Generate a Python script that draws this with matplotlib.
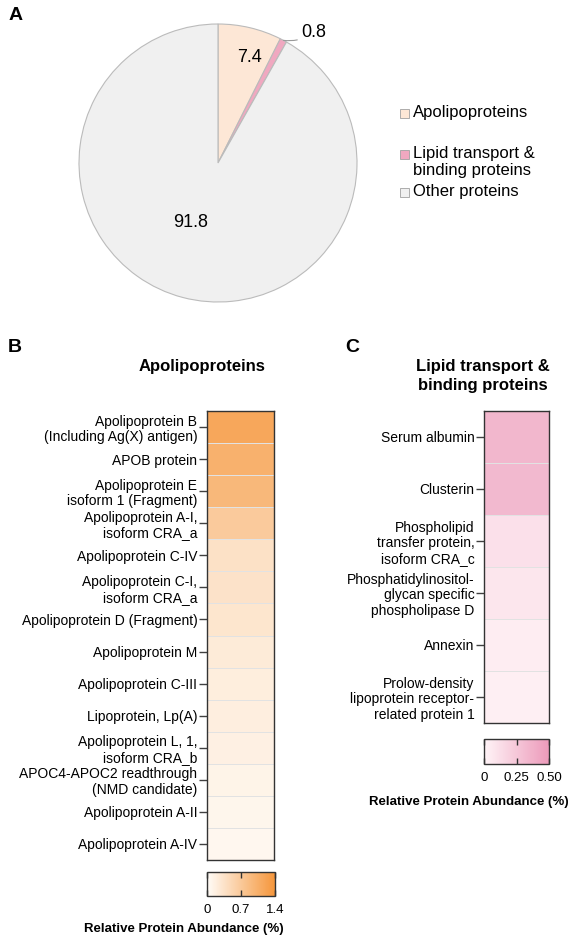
"""Protein composition figure: pie of protein classes plus two abundance heatmaps."""

import matplotlib

matplotlib.use("Agg")
import matplotlib.pyplot as plt
import numpy as np
from matplotlib.colors import LinearSegmentedColormap
from matplotlib.patches import Rectangle

plt.rcParams["font.family"] = ["Liberation Sans", "DejaVu Sans"]

# Panel A: share of total protein abundance (%)
pie_labels = ["Apolipoproteins", "Lipid transport &\nbinding proteins", "Other proteins"]
pie_values = [7.4, 0.8, 91.8]
pie_colors = ["#FDE7D6", "#F0A8C0", "#F0F0F0"]

# Panel B: apolipoproteins, relative abundance (%)
apo_names = [
    "Apolipoprotein B\n(Including Ag(X) antigen)",
    "APOB protein",
    "Apolipoprotein E\nisoform 1 (Fragment)",
    "Apolipoprotein A-I,\nisoform CRA_a",
    "Apolipoprotein C-IV",
    "Apolipoprotein C-I,\nisoform CRA_a",
    "Apolipoprotein D (Fragment)",
    "Apolipoprotein M",
    "Apolipoprotein C-III",
    "Lipoprotein, Lp(A)",
    "Apolipoprotein L, 1,\nisoform CRA_b",
    "APOC4-APOC2 readthrough\n(NMD candidate)",
    "Apolipoprotein A-II",
    "Apolipoprotein A-IV",
]
apo_values = [1.16, 1.03, 0.93, 0.68, 0.37, 0.35, 0.31, 0.24, 0.20, 0.19, 0.16, 0.12, 0.09, 0.07]
apo_ticks = [0, 0.7, 1.4]
apo_ticklabels = ["0", "0.7", "1.4"]

# Panel C: lipid transport & binding proteins, relative abundance (%)
lipid_names = [
    "Serum albumin",
    "Clusterin",
    "Phospholipid\ntransfer protein,\nisoform CRA_c",
    "Phosphatidylinositol-\nglycan specific\nphospholipase D",
    "Annexin",
    "Prolow-density\nlipoprotein receptor-\nrelated protein 1",
]
lipid_values = [0.34, 0.33, 0.11, 0.08, 0.04, 0.03]
lipid_ticks = [0, 0.25, 0.50]
lipid_ticklabels = ["0", "0.25", "0.50"]

W, H = 574, 943
fig = plt.figure(figsize=(W / 100, H / 100), dpi=100)


def px_axes(x0, y0, x1, y1):
    """Axes from pixel box (top-left origin)."""
    return fig.add_axes([x0 / W, 1 - y1 / H, (x1 - x0) / W, (y1 - y0) / H])


def ftext(x, y, s, **kw):
    fig.text(x / W, 1 - y / H, s, **kw)


# ---- Panel A: pie ----
r = 139
cx, cy = 218, 163
ax_pie = px_axes(cx - r, cy - r, cx + r, cy + r)
ax_pie.pie(
    pie_values,
    colors=pie_colors,
    startangle=90,
    counterclock=False,
    radius=1,
    wedgeprops=dict(edgecolor="#BBBBBB", linewidth=0.8),
)
ax_pie.set_xlim(-1, 1)
ax_pie.set_ylim(-1, 1)
ax_pie.set_aspect("auto")
ax_pie.text(0.23, 0.76, f"{pie_values[0]}", fontsize=13, ha="center", va="center")
ax_pie.text(-0.2, -0.43, f"{pie_values[2]}", fontsize=13, ha="center", va="center")
mid = np.deg2rad(90 - 360 * (pie_values[0] + pie_values[1] / 2) / 100)
ax_pie.annotate(
    f"{pie_values[1]}",
    xy=(np.cos(mid), np.sin(mid)),
    xytext=(0.6, 0.94),
    fontsize=13,
    ha="left",
    va="center",
    arrowprops=dict(arrowstyle="-", color="#999999", lw=0.8, shrinkA=1, shrinkB=0,
                    connectionstyle="arc3,rad=-0.2"),
    annotation_clip=False,
)

# legend drawn by hand to keep the uneven row spacing
legend_rows = [113, 154, 192]
for label, color, ly in zip(pie_labels, pie_colors, legend_rows):
    fig.add_artist(Rectangle((400 / W, 1 - (ly + 4.5) / H), 9 / W, 9 / H,
                             transform=fig.transFigure, facecolor=color,
                             edgecolor="#A0A0A0", linewidth=0.6))
    ftext(413, ly - 8, label, fontsize=12, ha="left", va="top", linespacing=1.15)


# ---- heatmaps ----
def heatmap(box, cbox, names, values, cmap, vmax, ticks, ticklabels):
    ax = px_axes(*box)
    data = np.array(values)[:, None]
    mesh = ax.pcolormesh(data, cmap=cmap, vmin=0, vmax=vmax,
                         edgecolors="#E2E2E2", linewidth=0.4)
    ax.set_ylim(len(values), 0)
    ax.set_xticks([])
    ax.set_yticks(np.arange(len(values)) + 0.5)
    ax.set_yticklabels(names, fontsize=10, linespacing=1.15)
    ax.tick_params(axis="y", length=6, width=1, color="#404040", pad=1)
    for sp in ax.spines.values():
        sp.set_color("#333333")
        sp.set_linewidth(1)

    cax = px_axes(*cbox)
    cb = fig.colorbar(mesh, cax=cax, orientation="horizontal", ticks=ticks)
    cb.set_ticklabels(ticklabels)
    cb.outline.set_edgecolor("#333333")
    cb.outline.set_linewidth(1)
    cax.xaxis.set_ticks_position("both")
    cax.tick_params(direction="in", length=4, width=1, color="#333333",
                    labelsize=9.5, labeltop=False, pad=6)
    return ax


apo_cmap = LinearSegmentedColormap.from_list("apo", ["#FFFCF8", "#F5963B"])
lipid_cmap = LinearSegmentedColormap.from_list("lipid", ["#FFF4F7", "#EC9ABA"])

heatmap((207, 411, 274, 860), (207, 872, 275, 896), apo_names, apo_values,
        apo_cmap, apo_ticks[-1], apo_ticks, apo_ticklabels)
heatmap((484, 411, 549, 723), (484, 739, 549, 764), lipid_names, lipid_values,
        lipid_cmap, lipid_ticks[-1], lipid_ticks, lipid_ticklabels)

ftext(202, 366, "Apolipoproteins", fontsize=12, fontweight="bold", ha="center", va="center")
ftext(483, 376, "Lipid transport &\nbinding proteins", fontsize=12, fontweight="bold",
      ha="center", va="center", linespacing=1.3)
ftext(184, 929, "Relative Protein Abundance (%)", fontsize=9.5, fontweight="bold",
      ha="center", va="center")
ftext(469, 802, "Relative Protein Abundance (%)", fontsize=9.5, fontweight="bold",
      ha="center", va="center")

# panel letters
for letter, lx, ly in [("A", 16, 15), ("B", 15, 348), ("C", 352, 348)]:
    ftext(lx, ly, letter, fontsize=14, fontweight="bold", ha="center", va="center")

fig.savefig("out.png", dpi=100)
plt.close(fig)
